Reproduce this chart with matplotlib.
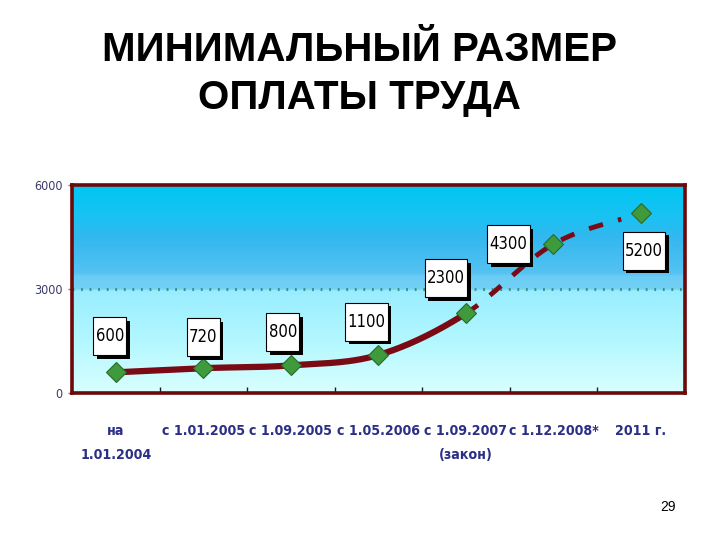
import numpy as np
import matplotlib
matplotlib.use("Agg")
import matplotlib.pyplot as plt
from matplotlib.path import Path
from matplotlib.colors import LinearSegmentedColormap
import matplotlib.patheffects as pe

categories = ["на\n1.01.2004", "с 1.01.2005", "с 1.09.2005", "с 1.05.2006",
              "с 1.09.2007\n(закон)", "с 1.12.2008*", "2011 г."]
values = [600, 720, 800, 1100, 2300, 4300, 5200]
labels = ["600", "720", "800", "1100", "2300", "4300", "5200"]
yticks = [0, 3000, 6000]
title = "МИНИМАЛЬНЫЙ РАЗМЕР\nОПЛАТЫ ТРУДА"

# label offsets in pixels (style)
label_offsets = [(-6, 36), (0, 31), (-8, 33), (-12, 33), (-20, 35), (-45, 0), (3, -38)]

COND = dict(family="DejaVu Sans", stretch="condensed")

fig = plt.figure(figsize=(7.2, 5.4), dpi=100)
fig.patch.set_facecolor("white")

fig.text(0.5, 0.8635, title, ha="center", va="center", fontsize=29,
         fontweight="bold", family=["Liberation Sans", "DejaVu Sans"],
         linespacing=1.34)
fig.text(0.928, 0.061, "29", ha="center", va="center", fontsize=10,
         family=["Liberation Sans", "DejaVu Sans"])

ax = fig.add_axes([0.1, 0.272, 0.851, 0.385])
n = len(values)
ax.set_xlim(-0.5, n - 0.5)
ax.set_ylim(0, 6000)

# background gradient
stops = [(0.0, (0.85, 1.0, 1.0)), (0.25, (0.70, 0.97, 1.0)),
         (0.49, (0.60, 0.93, 1.0)), (0.50, (0.45, 0.82, 0.96)),
         (0.56, (0.42, 0.80, 0.96)), (0.58, (0.33, 0.76, 0.95)),
         (0.75, (0.20, 0.72, 0.94)), (0.85, (0.10, 0.76, 0.95)),
         (1.0, (0.0, 0.78, 0.95))]
cmap = LinearSegmentedColormap.from_list("bg", stops)
grad = np.linspace(0, 1, 300).reshape(-1, 1)
ax.imshow(grad, cmap=cmap, origin="lower", aspect="auto",
          extent=(-0.5, n - 0.5, 0, 6000), zorder=0)

# gridline at 3000
ax.axhline(3000, color="#3f8f8a", lw=2.2, linestyle=(0, (0.6, 2.2)), zorder=1)

# smooth curve (Catmull-Rom through the data points)
x = np.arange(n, dtype=float)
y = np.array(values, dtype=float)
def catmull(xp, yp, steps=40):
    px = np.concatenate([[2 * xp[0] - xp[1]], xp, [2 * xp[-1] - xp[-2]]])
    py = np.concatenate([[2 * yp[0] - yp[1]], yp, [2 * yp[-1] - yp[-2]]])
    xs, ys = [], []
    for i in range(1, len(px) - 2):
        t = np.linspace(0, 1, steps, endpoint=False)
        for arr, out in ((px, xs), (py, ys)):
            p0, p1, p2, p3 = arr[i - 1], arr[i], arr[i + 1], arr[i + 2]
            out.append(0.5 * ((2 * p1) + (-p0 + p2) * t +
                              (2 * p0 - 5 * p1 + 4 * p2 - p3) * t ** 2 +
                              (-p0 + 3 * p1 - 3 * p2 + p3) * t ** 3))
    xs.append([xp[-1]]); ys.append([yp[-1]])
    return np.concatenate(xs), np.concatenate(ys)

cx, cy = catmull(x, y)
solid = cx <= x[4]
ax.plot(cx[solid], cy[solid], color="#7a0a14", lw=4.5, solid_capstyle="butt", zorder=3)
dash = (cx >= x[4]) & (cx <= x[5] + 0.78)
ax.plot(cx[dash], cy[dash], color="#7a0a14", lw=3.5, linestyle=(0, (3.0, 3.2)),
        zorder=3)

ax.plot(x, y, linestyle="none", marker="D", markersize=10,
        markerfacecolor="#3f9a3c", markeredgecolor="#2a6a28", markeredgewidth=0.8,
        zorder=4)

def tallbox(x0, y0, width, height, mutation_size):
    px = 0.13 * mutation_size
    py = 0.6 * mutation_size
    return Path([(x0 - px, y0 - py), (x0 + width + px, y0 - py),
                 (x0 + width + px, y0 + height + py), (x0 - px, y0 + height + py),
                 (x0 - px, y0 - py)],
                [Path.MOVETO, Path.LINETO, Path.LINETO, Path.LINETO, Path.CLOSEPOLY])

for xi, yi, lab, off in zip(x, y, labels, label_offsets):
    t = ax.annotate(lab, (xi, yi), xytext=(off[0] * 0.72, off[1] * 0.72),
                    textcoords="offset points", ha="center", va="center",
                    fontsize=12, color="black", zorder=6,
                    bbox=dict(boxstyle=tallbox, fc="white", ec="black", lw=0.8),
                    **COND)
    t.get_bbox_patch().set_path_effects([
        pe.SimplePatchShadow(offset=(2.5, -2.5), shadow_rgbFace="black", alpha=1),
        pe.Normal()])

# frame
for s in ax.spines.values():
    s.set_color("#6a0a0a")
    s.set_linewidth(2.6)

ax.set_yticks(yticks)
ax.set_yticklabels([str(v) for v in yticks], fontsize=9, color="#3a3a6a", **COND)
ax.tick_params(axis="y", length=3, width=1, color="#8a7a3a", pad=4)
ax.set_xticks(x)
ax.set_xticklabels(categories, fontsize=10.2, color="#2b2f86", fontweight="bold",
                   linespacing=1.95, va="top", **COND)
ax.tick_params(axis="x", length=0, pad=22)
ax.set_xticks(np.arange(0.5, n - 1, 1.0), minor=True)
ax.tick_params(axis="x", which="minor", direction="in", length=4, width=1,
               color="#1a1a2a")

fig.savefig("out.png", dpi=100, facecolor="white")
